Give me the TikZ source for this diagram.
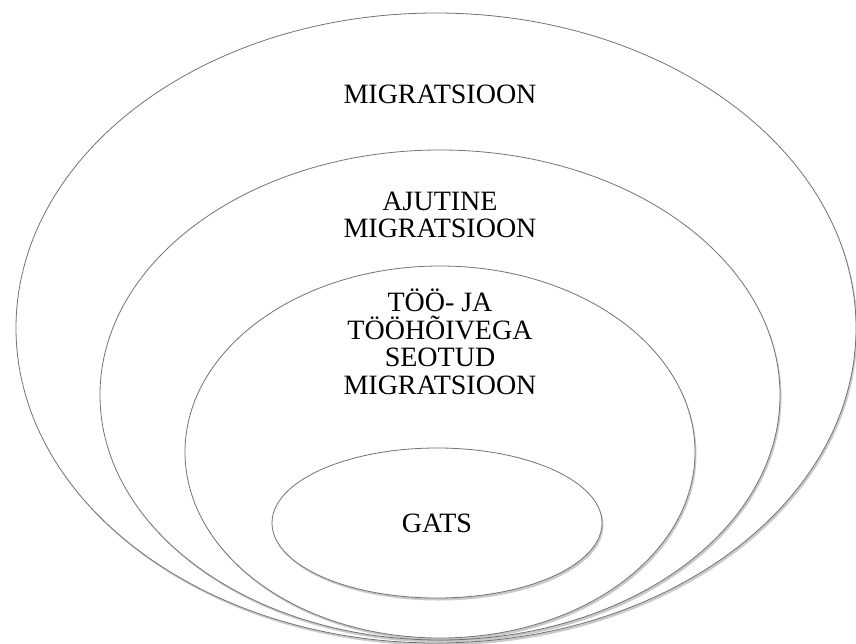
\documentclass[tikz,border=0pt]{standalone}
\usepackage{fontspec}
\setmainfont{Liberation Serif}
\usetikzlibrary{shadows}

\tikzset{
    ring/.style={draw=black!55, line width=0.8pt, fill=white,
        drop shadow={shadow xshift=1.5pt, shadow yshift=-2.5pt, opacity=0.35, fill=black!60}},
    label/.style={align=center, font=\fontsize{28}{27.5}\selectfont}
}

\begin{document}
\begin{tikzpicture}[x=1pt, y=-1pt]
        \useasboundingbox (0, 0) rectangle (856, 643);

        \coordinate (c0) at (436, 328){};
        \coordinate (c1) at (440, 395){};
        \coordinate (c2) at (440, 452){};
        \coordinate (c3) at (437, 523){};

        \draw[ring] (c0) ellipse (420 and 315);
        \draw[ring] (c1) ellipse (340 and 245);
        \draw[ring] (c2) ellipse (255 and 186);
        \draw[ring] (c3) ellipse (165 and 75);

        \node[label] (migr) at (440, 94) {MIGRATSIOON};
        \node[label] (ajut) at (440, 215) {AJUTINE\\MIGRATSIOON};
        \node[label] (too) at (440, 342) {TÖÖ- JA\\TÖÖHÕIVEGA\\SEOTUD\\MIGRATSIOON};
        \node[label] (gats) at (c3) {GATS};
    \end{tikzpicture}
\end{document}
